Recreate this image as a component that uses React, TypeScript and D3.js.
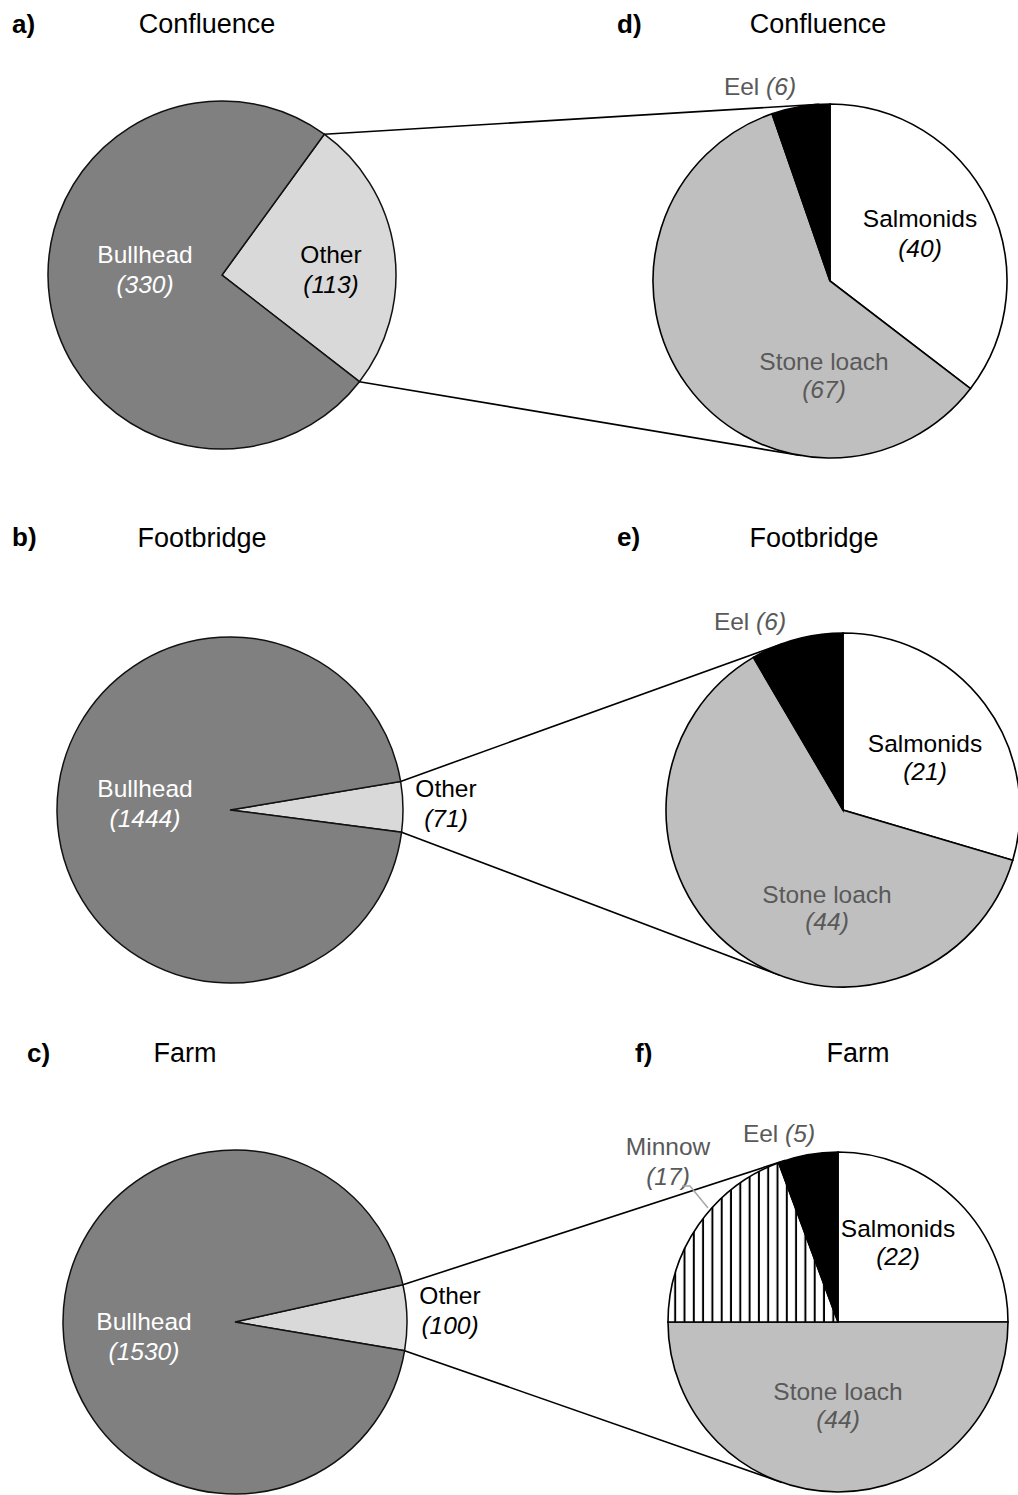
import React from "react";
import * as d3 from "d3";

// ---- data ----
const sites = ["Confluence", "Footbridge", "Farm"];
const leftTags = ["a)", "b)", "c)"];
const rightTags = ["d)", "e)", "f)"];
const bullhead = [330, 1444, 1530];
const other = [113, 71, 100];
const species = ["Salmonids", "Stone loach", "Minnow", "Eel"];
const salmonids = [40, 21, 22];
const stoneLoach = [67, 44, 44];
const minnow = [0, 0, 17];
const eel = [6, 6, 5];

// ---- layout ----
const W = 1018;
const H = 1495;
const FONT = "'Liberation Sans', Arial, Helvetica, sans-serif";
const LABEL_SIZE = 24.5;
const deg = Math.PI / 180;

const leftLayout = [
  { cx: 222, cy: 275, r: 174, start: 36, tagX: 12, tagY: 33, titleX: 207, titleY: 33,
    bull: [-77, -12], oth: [109, -12] },
  { cx: 230, cy: 810, r: 173, start: 80.5, tagX: 12, tagY: 546, titleX: 202, titleY: 547,
    bull: [-85, -13], oth: [216, -13] },
  { cx: 235, cy: 1322, r: 172, start: 77.5, tagX: 27, tagY: 1062, titleX: 185, titleY: 1062,
    bull: [-91, 8], oth: [215, -18] },
];
const rightLayout = [
  { cx: 830, cy: 281, r: 177, tagX: 617, tagY: 33, titleX: 818, titleY: 33,
    lab: { Salmonids: [90, -54, 30], "Stone loach": [-6, 89, 28], Eel: [-70, -186, 0] } as any },
  { cx: 843, cy: 810, r: 177, tagX: 617, tagY: 546, titleX: 814, titleY: 547,
    lab: { Salmonids: [82, -58, 28], "Stone loach": [-16, 93, 27], Eel: [-93, -180, 0] } as any },
  { cx: 838, cy: 1322, r: 170, tagX: 635, tagY: 1062, titleX: 858, titleY: 1062,
    lab: { Salmonids: [60, -85, 28], "Stone loach": [0, 78, 28], Eel: [-59, -180, 0], Minnow: [-170, -167, 30] } as any },
];

const speciesFill: Record<string, string> = {
  Salmonids: "#ffffff",
  "Stone loach": "#bfbfbf",
  Minnow: "url(#vhatch)",
  Eel: "#000000",
};
const speciesText: Record<string, string> = {
  Salmonids: "#000000",
  "Stone loach": "#595959",
  Minnow: "#595959",
  Eel: "#595959",
};

function polar(cx: number, cy: number, r: number, a: number) {
  return [cx + r * Math.sin(a), cy - r * Math.cos(a)];
}
function tangent(p: number[], cx: number, cy: number, r: number, upper: boolean) {
  const dx = p[0] - cx, dy = p[1] - cy;
  const d = Math.hypot(dx, dy);
  const base = Math.atan2(dy, dx);
  const al = Math.acos(r / d);
  const t = upper ? base + al : base - al;
  return [cx + r * Math.cos(t), cy + r * Math.sin(t)];
}

function TwoLine({ x, y, name, val, gap, fill }: any) {
  return (
    <text x={x} y={y} textAnchor="middle" fill={fill} fontFamily={FONT} fontSize={LABEL_SIZE}>
      <tspan x={x}>{name}</tspan>
      <tspan x={x} dy={gap} fontStyle="italic">({val})</tspan>
    </text>
  );
}

export default function App() {
  const arcGen = d3.arc<any>();
  return (
    <svg width={W} height={H} style={{ position: "absolute", left: 0, top: 0, background: "#fff" }}>
      <defs>
        <pattern id="vhatch" patternUnits="userSpaceOnUse" width={9.3} height={10}>
          <rect width={9.3} height={10} fill="#fff" />
          <line x1={4.6} x2={4.6} y1={0} y2={10} stroke="#000" strokeWidth={2} />
        </pattern>
      </defs>
      <rect width={W} height={H} fill="#fff" />
      {sites.map((site, i) => {
        const L = leftLayout[i];
        const R = rightLayout[i];
        const leftVals = [
          { name: "Other", value: other[i] },
          { name: "Bullhead", value: bullhead[i] },
        ];
        const s0 = L.start * deg;
        const leftPie = d3.pie<any>().sort(null).value((d) => d.value)
          .startAngle(s0).endAngle(s0 + 2 * Math.PI)(leftVals);
        const oth = leftPie[0];
        const pTop = polar(L.cx, L.cy, L.r, oth.startAngle);
        const pBot = polar(L.cx, L.cy, L.r, oth.endAngle);
        const tTop = tangent(pTop, R.cx, R.cy, R.r, true);
        const tBot = tangent(pBot, R.cx, R.cy, R.r, false);

        const rightVals = species
          .map((sp) => ({
            name: sp,
            value: sp === "Salmonids" ? salmonids[i] : sp === "Stone loach" ? stoneLoach[i] : sp === "Minnow" ? minnow[i] : eel[i],
          }))
          .filter((d) => d.value > 0);
        const rightPie = d3.pie<any>().sort(null).value((d) => d.value)(rightVals);

        return (
          <g key={site}>
            {/* titles */}
            <text x={L.tagX} y={L.tagY} fontFamily={FONT} fontSize={26} fontWeight="bold">{leftTags[i]}</text>
            <text x={L.titleX} y={L.titleY} textAnchor="middle" fontFamily={FONT} fontSize={27}>{site}</text>
            <text x={R.tagX} y={R.tagY} fontFamily={FONT} fontSize={26} fontWeight="bold">{rightTags[i]}</text>
            <text x={R.titleX} y={R.titleY} textAnchor="middle" fontFamily={FONT} fontSize={27}>{site}</text>

            {/* connector lines */}
            <line x1={pTop[0]} y1={pTop[1]} x2={tTop[0]} y2={tTop[1]} stroke="#000" strokeWidth={1.6} />
            <line x1={pBot[0]} y1={pBot[1]} x2={tBot[0]} y2={tBot[1]} stroke="#000" strokeWidth={1.6} />

            {/* left pie */}
            <g transform={`translate(${L.cx},${L.cy})`}>
              {leftPie.map((a: any) => (
                <path
                  key={a.data.name}
                  d={arcGen({ ...a, innerRadius: 0, outerRadius: L.r }) as string}
                  fill={a.data.name === "Bullhead" ? "#808080" : "#d9d9d9"}
                  stroke="#111"
                  strokeWidth={1.5}
                />
              ))}
            </g>
            <TwoLine x={L.cx + L.bull[0]} y={L.cy + L.bull[1]} name="Bullhead" val={bullhead[i]} gap={30} fill="#ffffff" />
            <TwoLine x={L.cx + L.oth[0]} y={L.cy + L.oth[1]} name="Other" val={other[i]} gap={30} fill="#000000" />

            {/* right pie */}
            <g transform={`translate(${R.cx},${R.cy})`}>
              {rightPie.map((a: any) => (
                <path
                  key={a.data.name}
                  d={arcGen({ ...a, innerRadius: 0, outerRadius: R.r }) as string}
                  fill={speciesFill[a.data.name]}
                  stroke="#000"
                  strokeWidth={1.6}
                />
              ))}
            </g>
            {rightPie.map((a: any) => {
              const nm = a.data.name;
              const o = R.lab[nm];
              if (!o) return null;
              const x = R.cx + o[0];
              const y = R.cy + o[1];
              if (nm === "Eel") {
                return (
                  <text key={nm} x={x} y={y} textAnchor="middle" fill={speciesText[nm]} fontFamily={FONT} fontSize={LABEL_SIZE}>
                    Eel <tspan fontStyle="italic">({a.data.value})</tspan>
                  </text>
                );
              }
              return (
                <TwoLine key={nm} x={x} y={y} name={nm} val={a.data.value} gap={o[2]} fill={speciesText[nm]} />
              );
            })}
            {minnow[i] > 0 && (
              <polyline
                points={[
                  [R.cx - 156, R.cy - 136],
                  [R.cx - 148, R.cy - 136],
                  [R.cx - 130, R.cy - 114],
                ].map((p) => p.join(",")).join(" ")}
                fill="none"
                stroke="#a6a6a6"
                strokeWidth={1.5}
              />
            )}
          </g>
        );
      })}
    </svg>
  );
}
